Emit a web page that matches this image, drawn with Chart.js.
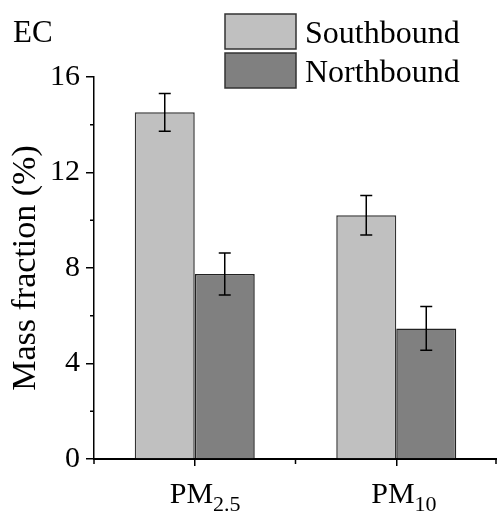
<!DOCTYPE html>
<html>
<head>
<meta charset="utf-8">
<script src="https://cdn.jsdelivr.net/npm/chart.js@4"></script>
<style>
  html, body { margin: 0; padding: 0; background: #fff; }
</style>
</head>
<body>
<canvas id="myChart" width="497" height="518"></canvas>
<script>
var categories = ['PM2.5', 'PM10'];
var labelMain = ['PM', 'PM'];
var labelSub = ['2.5', '10'];
var southbound = [14.52, 10.21];
var southboundErr = [0.79, 0.83];
var northbound = [7.75, 5.47];
var northboundErr = [0.88, 0.92];
var yTicks = [0, 4, 8, 12, 16];
var yMinorTicks = [2, 6, 10, 14];

var serif = '"Liberation Serif", "Times New Roman", serif';

// error bars, minor ticks, subscript labels, legend and panel tag
var extras = {
    id: 'extras',
    afterDatasetsDraw: function (chart) {
        var ctx = chart.ctx;
        var y = chart.scales.y;
        var errs = [southboundErr, northboundErr];
        ctx.save();
        ctx.strokeStyle = '#000';
        ctx.lineWidth = 1.5;
        chart.data.datasets.forEach(function (ds, d) {
            chart.getDatasetMeta(d).data.forEach(function (bar, i) {
                var top = y.getPixelForValue(ds.data[i] + errs[d][i]);
                var bot = y.getPixelForValue(ds.data[i] - errs[d][i]);
                ctx.beginPath();
                ctx.moveTo(bar.x, top); ctx.lineTo(bar.x, bot);
                ctx.moveTo(bar.x - 6, top); ctx.lineTo(bar.x + 6, top);
                ctx.moveTo(bar.x - 6, bot); ctx.lineTo(bar.x + 6, bot);
                ctx.stroke();
            });
        });
        ctx.restore();
    },
    afterDraw: function (chart) {
        var ctx = chart.ctx;
        var x = chart.scales.x;
        var y = chart.scales.y;
        var area = chart.chartArea;
        ctx.save();
        ctx.strokeStyle = '#000';
        ctx.lineWidth = 1.5;
        ctx.beginPath();
        yMinorTicks.forEach(function (v) {
            var py = y.getPixelForValue(v);
            ctx.moveTo(area.left - 4, py); ctx.lineTo(area.left, py);
        });
        var edges = [area.left, (x.getPixelForValue(0) + x.getPixelForValue(1)) / 2, area.right - 1];
        edges.forEach(function (px) {
            ctx.moveTo(px, area.bottom); ctx.lineTo(px, area.bottom + 5);
        });
        ctx.stroke();

        ctx.fillStyle = '#000';
        ctx.textBaseline = 'alphabetic';
        ctx.textAlign = 'left';
        categories.forEach(function (c, i) {
            var px = x.getPixelForValue(i) - 25;
            ctx.font = '30px ' + serif;
            ctx.fillText(labelMain[i], px, area.bottom + 44);
            var w = ctx.measureText(labelMain[i]).width;
            ctx.font = '22px ' + serif;
            ctx.fillText(labelSub[i], px + w, area.bottom + 52);
        });

        ctx.font = '31px ' + serif;
        ctx.fillText('EC', 13, 42);

        var rows = [14, 53];
        chart.data.datasets.forEach(function (ds, d) {
            ctx.fillStyle = ds.backgroundColor;
            ctx.fillRect(225, rows[d], 71, 35);
            ctx.strokeStyle = '#333';
            ctx.lineWidth = 1.5;
            ctx.strokeRect(225, rows[d], 71, 35);
            ctx.fillStyle = '#000';
            ctx.font = '32px ' + serif;
            ctx.fillText(ds.label, 305, rows[d] + 29);
        });
        ctx.restore();
    }
};

var ctx = document.getElementById('myChart').getContext('2d');
var myChart = new Chart(ctx, {
    type: 'bar',
    data: {
        labels: categories,
        datasets: [{
            label: 'Southbound',
            data: southbound,
            backgroundColor: '#c0c0c0',
            borderColor: '#333',
            borderWidth: 1.5
        }, {
            label: 'Northbound',
            data: northbound,
            backgroundColor: '#808080',
            borderColor: '#222',
            borderWidth: 1.5
        }]
    },
    options: {
        responsive: false,
        devicePixelRatio: 1,
        animation: false,
        layout: { padding: { top: 77, left: 0, right: 0, bottom: 0 } },
        datasets: { bar: { barPercentage: 1, categoryPercentage: 0.5955 } },
        plugins: {
            legend: { display: false },
            tooltip: { enabled: false }
        },
        scales: {
            x: {
                grid: { offset: false, drawOnChartArea: false, tickLength: 7, color: '#000', lineWidth: 1.5 },
                border: { color: '#000', width: 2 },
                ticks: { display: false },
                afterFit: function (s) { s.height = 59; }
            },
            y: {
                min: 0,
                max: 16,
                afterBuildTicks: function (s) { s.ticks = yTicks.map(function (v) { return { value: v }; }); },
                ticks: { color: '#000', padding: 6, font: { family: serif, size: 30 } },
                grid: { drawOnChartArea: false, tickLength: 8, color: '#000', lineWidth: 1.5 },
                border: { color: '#000', width: 1.5 },
                title: {
                    display: true,
                    text: 'Mass fraction (%)',
                    color: '#000',
                    font: { family: serif, size: 34 },
                    padding: { top: 6, bottom: 0 }
                },
                afterFit: function (s) { s.width = 94; }
            }
        }
    },
    plugins: [extras]
});
</script>
</body>
</html>
